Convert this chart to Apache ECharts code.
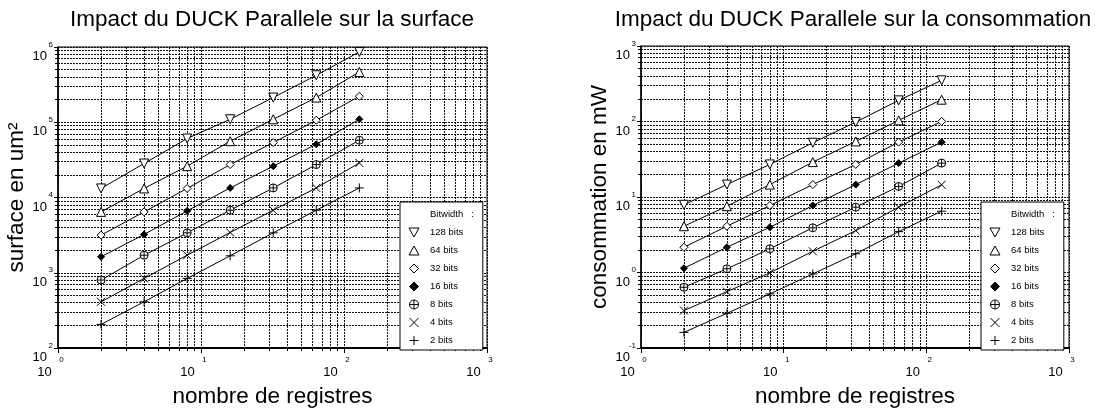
<!DOCTYPE html>
<html>
<head>
<meta charset="utf-8">
<script src="https://cdn.jsdelivr.net/npm/echarts@6/dist/echarts.min.js"></script>
<style>
html, body { margin: 0; padding: 0; background: #fff; }
#chart { width: 1100px; height: 414px; }
</style>
</head>
<body>
<div id="chart"></div>
<script>
// nombre de registres (axe x)
var registres = [2, 4, 8, 16, 32, 64, 128];
var bitwidths = ['128 bits', '64 bits', '32 bits', '16 bits', '8 bits', '4 bits', '2 bits'];
var legendTitle = 'Bitwidth   :';

// surface en um2, une liste par bitwidth
var surface128 = [13200, 28300, 60800, 109600, 212800, 421000, 859000];
var surface64 = [6440, 13200, 26100, 56000, 109600, 212800, 465600];
var surface32 = [3160, 6440, 13200, 27400, 53700, 106300, 221400];
var surface16 = [1630, 3230, 6640, 13400, 26100, 51000, 109600];
var surface8 = [800, 1710, 3390, 6780, 13400, 27400, 57700];
var surface4 = [411, 840, 1710, 3430, 6780, 13400, 28800];
var surface2 = [206, 411, 840, 1680, 3390, 6780, 13400];

// consommation en mW
var conso128 = [7.88, 14.6, 27.0, 52.3, 98.2, 190.5, 351];
var conso64 = [4.10, 7.55, 14.6, 29.0, 54.5, 103.5, 194.5];
var conso32 = [2.16, 4.10, 7.71, 14.6, 27.0, 53.3, 100.3];
var conso16 = [1.14, 2.16, 3.97, 7.71, 14.6, 28.1, 53.3];
var conso8 = [0.637, 1.12, 2.06, 3.91, 7.33, 13.8, 28.1];
var conso4 = [0.313, 0.558, 0.99, 1.91, 3.59, 7.33, 14.5];
var conso2 = [0.161, 0.288, 0.52, 0.957, 1.77, 3.48, 6.49];

var surfaceSeries = [surface128, surface64, surface32, surface16, surface8, surface4, surface2];
var consoSeries = [conso128, conso64, conso32, conso16, conso8, conso4, conso2];

// marqueurs (meme ordre que bitwidths)
var markers = [
	{ path: 'path://M0,0L10,0L5,9Z', size: [9, 9], fill: '#fff' },
	{ path: 'path://M5,0L10,9L0,9Z', size: [9, 9], fill: '#fff' },
	{ path: 'path://M5,0L10,5L5,10L0,5Z', size: 8, fill: '#fff' },
	{ path: 'path://M5,0L10,5L5,10L0,5Z', size: 7, fill: '#000' },
	{ path: 'path://M0,5A5,5,0,1,1,10,5A5,5,0,1,1,0,5ZM5,0L5,10M0,5L10,5', size: 8, fill: '#fff' },
	{ path: 'path://M0,0L10,10M10,0L0,10', size: 8, fill: '#fff' },
	{ path: 'path://M5,0L5,10M0,5L10,5', size: 9, fill: '#fff' }
];

var font = 'Liberation Sans, Arial, sans-serif';
var gridLine = { color: '#111', type: [2, 1], width: 1 };

function exposant(v) {
	return Math.round(Math.log(v) / Math.LN10);
}

//exposant au-dessus, base 10 en dessous
function label10(v) {
	return '{e|' + exposant(v) + '}\n{b|10}';
}

function xAxis(gridIndex) {
	return {
		type: 'log',
		logBase: 10,
		gridIndex: gridIndex,
		min: 1,
		max: 1000,
		name: 'nombre de registres',
		nameLocation: 'middle',
		nameGap: 37,
		nameTextStyle: { fontFamily: font, fontSize: 22.5, color: '#000' },
		axisLine: { show: true, lineStyle: { color: '#000', width: 2 } },
		axisTick: { show: true, inside: false, length: 5, lineStyle: { color: '#000' } },
		minorTick: { show: true, splitNumber: 9, length: 3, lineStyle: { color: '#000' } },
		splitLine: { show: true, lineStyle: gridLine },
		minorSplitLine: { show: true, lineStyle: gridLine },
		axisLabel: {
			margin: 6,
			color: '#000',
			fontFamily: font,
			formatter: label10,
			rich: {
				e: { fontSize: 8, lineHeight: 12, align: 'center', padding: [0, 0, 0, 7], fontFamily: font },
				b: { fontSize: 13, lineHeight: 12, align: 'center', padding: [0, 27, 0, 0], fontFamily: font }
			}
		}
	};
}

function yAxis(gridIndex, name, min, max) {
	return {
		type: 'log',
		logBase: 10,
		gridIndex: gridIndex,
		min: min,
		max: max,
		name: name,
		nameLocation: 'middle',
		nameGap: 26,
		nameTextStyle: { fontFamily: font, fontSize: 22.5, color: '#000' },
		axisLine: { show: true, lineStyle: { color: '#000', width: 1.5 } },
		axisTick: { show: true, inside: false, length: 4, lineStyle: { color: '#000' } },
		minorTick: { show: true, splitNumber: 9, length: 3, lineStyle: { color: '#000' } },
		splitLine: { show: true, lineStyle: gridLine },
		minorSplitLine: { show: true, lineStyle: gridLine },
		axisLabel: {
			margin: 5,
			padding: [8, 0, 0, 0],
			color: '#000',
			fontFamily: font,
			formatter: label10,
			rich: {
				e: { fontSize: 8, lineHeight: 11, align: 'right', fontFamily: font },
				b: { fontSize: 13, lineHeight: 13, align: 'right', padding: [0, 6, 0, 0], fontFamily: font }
			}
		}
	};
}

function buildSeries(values, gridIndex) {
	var list = [];
	for (var i = 0; i < bitwidths.length; i++) {
		var pts = [];
		for (var j = 0; j < registres.length; j++) {
			pts.push([registres[j], values[i][j]]);
		}
		list.push({
			name: bitwidths[i],
			type: 'line',
			xAxisIndex: gridIndex,
			yAxisIndex: gridIndex,
			data: pts,
			symbol: markers[i].path,
			symbolSize: markers[i].size,
			showAllSymbol: true,
			lineStyle: { color: '#000', width: 1 },
			itemStyle: { color: markers[i].fill, borderColor: '#000', borderWidth: 1 },
			emphasis: { disabled: true },
			animation: false,
			z: 3
		});
	}
	return list;
}

function buildLegend(left) {
	var data = [{ name: legendTitle, icon: 'rect', itemStyle: { color: 'rgba(0,0,0,0)', borderWidth: 0 } }];
	for (var i = 0; i < bitwidths.length; i++) {
		data.push({
			name: bitwidths[i],
			icon: markers[i].path,
			itemStyle: { color: markers[i].fill, borderColor: '#000', borderWidth: 1 }
		});
	}
	return {
		orient: 'vertical',
		left: left,
		top: 202,
		padding: [7.5, 9, 4.5, 3],
		itemWidth: 22,
		itemHeight: 9,
		itemGap: 8,
		backgroundColor: '#fff',
		borderColor: '#000',
		borderWidth: 1,
		borderRadius: 0,
		selectedMode: false,
		textStyle: { fontFamily: font, fontSize: 9.5, color: '#000' },
		data: data
	};
}

var chart = echarts.init(document.getElementById('chart'), null, { renderer: 'canvas' });

var series = buildSeries(surfaceSeries, 0).concat(buildSeries(consoSeries, 1));
series.push({ name: legendTitle, type: 'line', xAxisIndex: 0, yAxisIndex: 0, data: [] });

chart.setOption({
	backgroundColor: '#fff',
	animation: false,
	title: [
		{
			text: 'Impact du DUCK Parallele sur la surface',
			left: 272, top: 8, padding: 0, textAlign: 'center',
			textStyle: { fontFamily: font, fontSize: 22.5, fontWeight: 'normal', color: '#000' }
		},
		{
			text: 'Impact du DUCK Parallele sur la consommation',
			left: 853, top: 8, padding: 0, textAlign: 'center',
			textStyle: { fontFamily: font, fontSize: 22.5, fontWeight: 'normal', color: '#000' }
		}
	],
	grid: [
		{ left: 58, right: 613, top: 47, bottom: 66, show: true, borderColor: '#000', borderWidth: 1, backgroundColor: '#fff' },
		{ left: 641, right: 31, top: 46, bottom: 66, show: true, borderColor: '#000', borderWidth: 1, backgroundColor: '#fff' }
	],
	xAxis: [xAxis(0), xAxis(1)],
	yAxis: [
		yAxis(0, 'surface en um²', 100, 1000000),
		yAxis(1, 'consommation en mW', 0.1, 1000)
	],
	legend: [buildLegend(400), buildLegend(981)],
	series: series
});
</script>
</body>
</html>
